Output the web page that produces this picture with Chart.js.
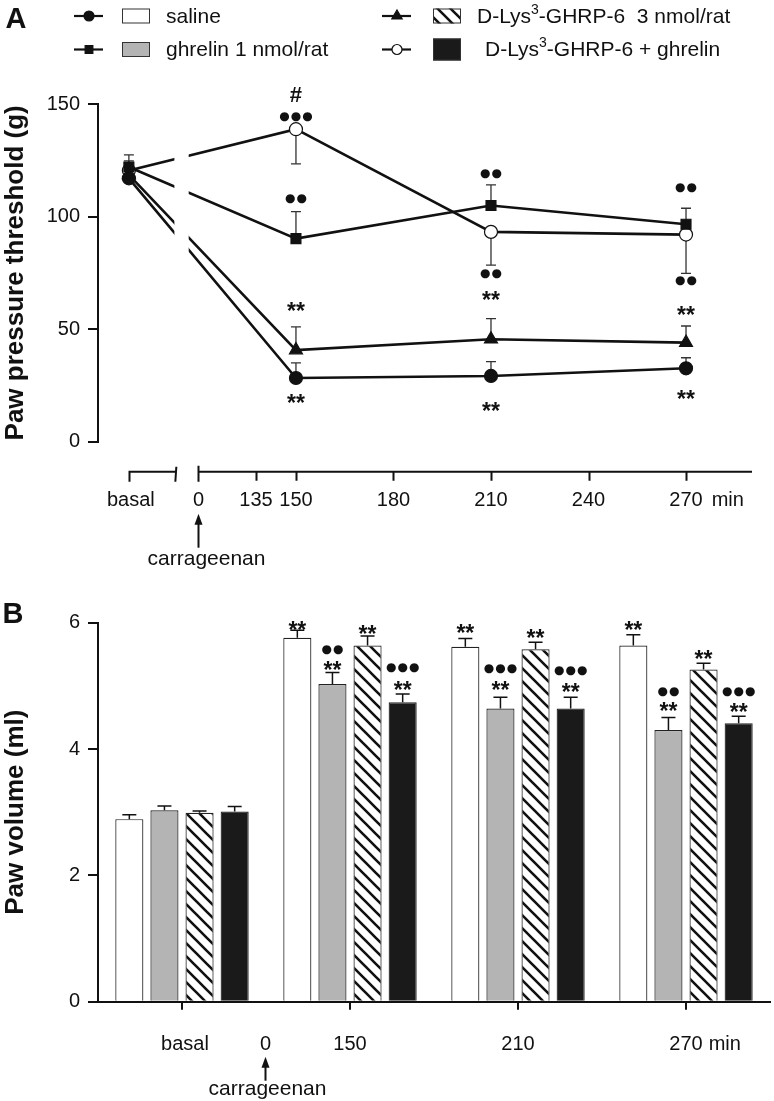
<!DOCTYPE html>
<html>
<head>
<meta charset="utf-8">
<script src="https://cdn.jsdelivr.net/npm/chart.js@4.4.1/dist/chart.umd.min.js"></script>
<style>
html, body { margin: 0; padding: 0; background: #fff; }
#wrap { position: relative; width: 774px; height: 1101px; }
canvas { position: absolute; left: 0; }
#chartA { top: 0; }
#chartB { top: 575px; }
</style>
</head>
<body>
<div id="wrap">
<canvas id="chartA" width="774" height="575"></canvas>
<canvas id="chartB" width="774" height="526"></canvas>
</div>
<script>
// ---- data ----
var groupNames = ['saline', 'ghrelin 1 nmol/rat', 'D-Lys3-GHRP-6  3 nmol/rat', 'D-Lys3-GHRP-6 + ghrelin'];

// panel A: paw pressure threshold (g)
var timesA = ['basal', 150, 210, 270];
var salineA = [117, 28.3, 29.2, 32.6];
var ghrelinA = [122, 90.2, 104.9, 96.6];
var dlysA = [118.5, 40.7, 45.5, 44];
var comboA = [120.5, 138.8, 93.2, 92];
// SEM, sign = side on which the bar is drawn
var salineErrA = [2, 6.7, 6.4, 4.7];
var ghrelinErrA = [2.7, 12, 9.2, 7.1];
var dlysErrA = [2, 10.3, 9.2, 7.4];
var comboErrA = [6.9, -15.4, -14.8, -17.2];
var ticksA = ['basal', '0', '135', '150', '180', '210', '240', '270'];
// significance marks: [time, level (g), mark]
var marksA = [
  [150, 154, '#'], [150, 144.4, '●●●'], [150, 107.7, '●●'], [150, 59.9, '**'], [150, 19.4, '**'],
  [210, 118.8, '●●'], [210, 74.7, '●●'], [210, 64.8, '**'], [210, 15.6, '**'],
  [270, 112.9, '●●'], [270, 71.3, '●●'], [270, 58.2, '**'], [270, 20.8, '**']
];

// panel B: paw volume (ml)
var timesB = ['basal', '150', '210', '270'];
var salineB = [2.89, 5.76, 5.62, 5.64];
var ghrelinB = [3.03, 5.03, 4.64, 4.30];
var dlysB = [2.99, 5.64, 5.58, 5.26];
var comboB = [3.01, 4.74, 4.64, 4.41];
var salineErrB = [0.07, 0.12, 0.13, 0.17];
var ghrelinErrB = [0.07, 0.18, 0.18, 0.2];
var dlysErrB = [0.03, 0.15, 0.11, 0.10];
var comboErrB = [0.08, 0.13, 0.18, 0.11];
// [time index, group index, level (ml), mark]
var marksB = [
  [1, 0, 5.96, '**'], [1, 1, 5.56, '●●'], [1, 1, 5.33, '**'], [1, 2, 5.90, '**'], [1, 3, 5.29, '●●●'], [1, 3, 5.01, '**'],
  [2, 0, 5.91, '**'], [2, 1, 5.26, '●●●'], [2, 1, 5.01, '**'], [2, 2, 5.83, '**'], [2, 3, 5.23, '●●●'], [2, 3, 4.98, '**'],
  [3, 0, 5.95, '**'], [3, 1, 4.91, '●●'], [3, 1, 4.67, '**'], [3, 2, 5.49, '**'], [3, 3, 4.91, '●●●'], [3, 3, 4.66, '**']
];

// ---- layout of the broken time axis in A (virtual minutes) ----
var posA = { 'basal': 98.6, '0': 120, '135': 137.7 };
function xA(t) { return posA[t] !== undefined ? posA[t] : Number(t); }

var FONT = "'Liberation Sans', Arial, sans-serif";
var INK = '#111';

function hatchPattern() {
  var s = 13;
  var c = document.createElement('canvas');
  c.width = s; c.height = s;
  var g = c.getContext('2d');
  g.fillStyle = '#fff';
  g.fillRect(0, 0, s, s);
  g.strokeStyle = INK;
  g.lineWidth = 2.6;
  g.beginPath();
  for (var k = -1; k <= 1; k++) {
    g.moveTo(k * s - 1, -1);
    g.lineTo(k * s + s + 1, s + 1);
  }
  g.stroke();
  return g.createPattern(c, 'repeat');
}
var hatch = hatchPattern();

var looks = [
  { point: 'circle', fill: INK, r: 6.5, box: '#fff' },
  { point: 'rect', fill: INK, r: 7, box: '#b4b4b4' },
  { point: 'triangle', fill: INK, r: 7.5, box: hatch },
  { point: 'circle', fill: '#fff', r: 6.5, box: '#1a1a1a' }
];

function textAt(ctx, str, x, cy, font) {
  ctx.font = font;
  ctx.textAlign = 'center';
  ctx.textBaseline = 'alphabetic';
  var m = ctx.measureText(str);
  ctx.fillText(str, x, cy + (m.actualBoundingBoxAscent - m.actualBoundingBoxDescent) / 2);
}

// like textAt but centres on the digit/cap height, so labels with descenders line up
function labelAt(ctx, str, x, cy, font) {
  ctx.font = font;
  ctx.textAlign = 'center';
  ctx.textBaseline = 'alphabetic';
  var h = ctx.measureText('0').actualBoundingBoxAscent;
  ctx.fillText(str, x, cy + h / 2);
}

function drawMark(ctx, str, x, cy) {
  ctx.save();
  ctx.fillStyle = INK;
  if (str.indexOf('●') >= 0) {
    ctx.letterSpacing = '1px';
    textAt(ctx, str, x + 0.5, cy, "12px 'DejaVu Sans', sans-serif");
  } else if (str === '#') {
    textAt(ctx, str, x, cy, 'bold 22px ' + FONT);
  } else {
    textAt(ctx, str, x, cy, 'bold 23px ' + FONT);
  }
  ctx.restore();
}

function errBar(ctx, x, y0, y1, half) {
  ctx.beginPath();
  ctx.moveTo(x, y0); ctx.lineTo(x, y1);
  ctx.moveTo(x - half, y1); ctx.lineTo(x + half, y1);
  ctx.stroke();
}

function marker(ctx, look, x, y, r) {
  ctx.save();
  ctx.fillStyle = look.fill;
  ctx.strokeStyle = INK;
  ctx.lineWidth = 1.2;
  ctx.beginPath();
  if (look.point === 'circle') ctx.arc(x, y, r, 0, Math.PI * 2);
  else if (look.point === 'rect') ctx.rect(x - r * 0.7, y - r * 0.7, r * 1.4, r * 1.4);
  else { ctx.moveTo(x, y - r); ctx.lineTo(x + r * 0.87, y + r * 0.5); ctx.lineTo(x - r * 0.87, y + r * 0.5); ctx.closePath(); }
  ctx.fill();
  ctx.stroke();
  ctx.restore();
}

function arrowUp(ctx, x, tip, tail) {
  ctx.lineWidth = 2;
  ctx.beginPath();
  ctx.moveTo(x, tail); ctx.lineTo(x, tip + 6);
  ctx.stroke();
  ctx.beginPath();
  ctx.moveTo(x, tip); ctx.lineTo(x + 4, tip + 11); ctx.lineTo(x - 4, tip + 11); ctx.closePath();
  ctx.fill();
}

// ---- panel A ----
var valuesA = [salineA, ghrelinA, dlysA, comboA];
var errsA = [salineErrA, ghrelinErrA, dlysErrA, comboErrA];

var extrasA = {
  id: 'extrasA',
  beforeDatasetsDraw: function (chart) {
    var ctx = chart.ctx, xs = chart.scales.x, ys = chart.scales.y;
    ctx.save();
    ctx.strokeStyle = '#333';
    ctx.lineWidth = 1.3;
    valuesA.forEach(function (vals, i) {
      vals.forEach(function (v, j) {
        var x = xs.getPixelForValue(xA(timesA[j]));
        errBar(ctx, x, ys.getPixelForValue(v), ys.getPixelForValue(v + errsA[i][j]), 5);
      });
    });
    ctx.restore();
  },
  afterDatasetsDraw: function (chart) {
    var ctx = chart.ctx, xs = chart.scales.x, a = chart.chartArea;
    // gap where the time axis is broken
    ctx.save();
    ctx.fillStyle = '#fff';
    var g0 = xs.getPixelForValue(112.6), g1 = xs.getPixelForValue(117);
    ctx.fillRect(g0, a.top - 10, g1 - g0, a.bottom - a.top + 20);
    ctx.restore();
  },
  afterDraw: function (chart) {
    var ctx = chart.ctx, xs = chart.scales.x, ys = chart.scales.y;
    ctx.save();
    ctx.strokeStyle = INK;
    ctx.fillStyle = INK;
    ctx.lineWidth = 2;
    var ay = ys.getPixelForValue(0) + 30;
    var px = function (t) { return Math.round(xs.getPixelForValue(xA(t))) + 0.5; };
    // basal bracket
    var bx = px('basal'), brk = xs.getPixelForValue(113.2);
    ctx.beginPath();
    ctx.moveTo(bx, ay + 10); ctx.lineTo(bx, ay); ctx.lineTo(brk, ay);
    ctx.moveTo(brk, ay - 5); ctx.lineTo(brk - 1, ay + 10);
    ctx.stroke();
    // main time axis
    var x0 = px('0');
    ctx.beginPath();
    ctx.moveTo(x0, ay - 6); ctx.lineTo(x0, ay + 10);
    ctx.moveTo(x0, ay); ctx.lineTo(chart.chartArea.right, ay);
    ticksA.slice(2).forEach(function (t) {
      var x = px(t);
      ctx.moveTo(x, ay); ctx.lineTo(x, ay + 9);
    });
    ctx.stroke();
    ticksA.forEach(function (t) {
      labelAt(ctx, t, xs.getPixelForValue(xA(t)) + (t === 'basal' ? 2 : 0), ay + 27, '20px ' + FONT);
    });
    ctx.font = '20px ' + FONT;
    var m270 = ctx.measureText('270').width;
    ctx.textAlign = 'left';
    labelAt(ctx, 'min', xs.getPixelForValue(270) + m270 / 2 + 9 + ctx.measureText('min').width / 2, ay + 27, '20px ' + FONT);
    // carrageenan arrow
    arrowUp(ctx, x0, ay + 42, ay + 76);
    textAt(ctx, 'carrageenan', x0 + 8, ay + 89, '21px ' + FONT);

    // significance marks
    marksA.forEach(function (m) {
      drawMark(ctx, m[2], xs.getPixelForValue(xA(m[0])), ys.getPixelForValue(m[1]));
    });

    // panel letter
    textAt(ctx, 'A', 16, 18, 'bold 29px ' + FONT);

    // legend
    var rows = [16, 49.5];
    var cols = [{ line: 74, box: 122, text: 166 }, { line: 382, box: 433, text: 477 }];
    var labels = [['saline'], ['ghrelin 1 nmol/rat'], ['D-Lys', '3', '-GHRP-6  3 nmol/rat'], ['D-Lys', '3', '-GHRP-6 + ghrelin']];
    for (var i = 0; i < 4; i++) {
      var c = cols[i < 2 ? 0 : 1], y = rows[i % 2], lk = looks[i];
      ctx.strokeStyle = INK;
      ctx.lineWidth = 2.2;
      ctx.beginPath();
      ctx.moveTo(c.line, y); ctx.lineTo(c.line + 29, y);
      ctx.stroke();
      marker(ctx, lk, c.line + 15, y, lk.r - 1.5);
      ctx.fillStyle = lk.box;
      var bh = i === 3 ? 22 : 15;
      ctx.fillRect(c.box, y - bh / 2, 28, bh);
      ctx.lineWidth = 1;
      ctx.strokeStyle = '#333';
      ctx.strokeRect(c.box + 0.5, y - bh / 2 + 0.5, 27, bh - 1);
      ctx.fillStyle = INK;
      ctx.textAlign = 'left';
      ctx.textBaseline = 'middle';
      var tx = c.text + (i === 3 ? 8 : 0);
      var parts = labels[i];
      ctx.font = '21px ' + FONT;
      ctx.fillText(parts[0], tx, y + 1);
      if (parts.length > 1) {
        tx += ctx.measureText(parts[0]).width;
        ctx.font = '14px ' + FONT;
        ctx.fillText(parts[1], tx, y - 6);
        tx += ctx.measureText(parts[1]).width;
        ctx.font = '21px ' + FONT;
        ctx.fillText(parts[2], tx, y + 1);
      }
    }
    ctx.restore();
  }
};

new Chart(document.getElementById('chartA'), {
  type: 'line',
  data: {
    datasets: valuesA.map(function (vals, i) {
      var lk = looks[i];
      return {
        label: groupNames[i],
        data: vals.map(function (v, j) { return { x: xA(timesA[j]), y: v }; }),
        borderColor: INK,
        borderWidth: 2.6,
        pointStyle: lk.point,
        pointRadius: lk.r,
        pointBackgroundColor: lk.fill,
        pointBorderColor: INK,
        pointBorderWidth: 1.2,
        tension: 0,
        clip: false
      };
    })
  },
  options: {
    responsive: false,
    animation: false,
    layout: { padding: { top: 104, right: 22, bottom: 133.3, left: 0 } },
    plugins: { legend: { display: false }, tooltip: { enabled: false } },
    scales: {
      x: { type: 'linear', display: false, min: 89.1, max: 290.3 },
      y: {
        min: 0, max: 150,
        ticks: { stepSize: 50, color: INK, padding: 8, font: { family: FONT, size: 20 } },
        grid: { drawOnChartArea: false, drawTicks: true, tickLength: 10, color: INK, lineWidth: 2 },
        border: { display: true, color: INK, width: 2 },
        title: { display: true, text: 'Paw pressure threshold (g)', color: INK, padding: { top: 0, bottom: 0 }, font: { family: FONT, size: 26, weight: 'bold' } },
        afterFit: function (s) { s.width = 98; }
      }
    }
  },
  plugins: [extrasA]
});

// ---- panel B ----
var valuesB = [salineB, ghrelinB, dlysB, comboB];
var errsB = [salineErrB, ghrelinErrB, dlysErrB, comboErrB];

var extrasB = {
  id: 'extrasB',
  afterDatasetsDraw: function (chart) {
    var ctx = chart.ctx, ys = chart.scales.y;
    ctx.save();
    ctx.strokeStyle = INK;
    ctx.lineWidth = 1.5;
    valuesB.forEach(function (vals, i) {
      var meta = chart.getDatasetMeta(i);
      vals.forEach(function (v, j) {
        errBar(ctx, meta.data[j].x, ys.getPixelForValue(v), ys.getPixelForValue(v + errsB[i][j]), 7);
      });
    });
    ctx.restore();
  },
  afterDraw: function (chart) {
    var ctx = chart.ctx, xs = chart.scales.x, ys = chart.scales.y;
    ctx.save();
    ctx.fillStyle = INK;
    ctx.strokeStyle = INK;
    marksB.forEach(function (m) {
      var bar = chart.getDatasetMeta(m[1]).data[m[0]];
      drawMark(ctx, m[3], bar.x, ys.getPixelForValue(m[2]));
    });
    var ay = ys.getPixelForValue(0);
    var ly = ay + 41;
    // time labels
    timesB.forEach(function (t, i) {
      labelAt(ctx, t, xs.getPixelForValue(i) + (i === 0 ? 3 : 0), ly, '20px ' + FONT);
    });
    ctx.font = '20px ' + FONT;
    var w = ctx.measureText('270').width;
    labelAt(ctx, 'min', xs.getPixelForValue(3) + w / 2 + 6 + ctx.measureText('min').width / 2, ly, '20px ' + FONT);
    // zero time and carrageenan arrow between basal and 150
    var x0 = Math.round(xs.getPixelForValue(0.5)) + 0.5 - 1;
    labelAt(ctx, '0', x0, ly, '20px ' + FONT);
    arrowUp(ctx, x0, ly + 14, ly + 38);
    textAt(ctx, 'carrageenan', x0 + 2, ay + 89, '21px ' + FONT);
    textAt(ctx, 'B', 13, 38, 'bold 29px ' + FONT);
    ctx.restore();
  }
};

new Chart(document.getElementById('chartB'), {
  type: 'bar',
  data: {
    labels: timesB,
    datasets: valuesB.map(function (vals, i) {
      return {
        label: groupNames[i],
        data: vals,
        backgroundColor: looks[i].box,
        borderColor: '#222',
        borderWidth: 1.2,
        categoryPercentage: 0.836,
        barPercentage: 0.8
      };
    })
  },
  options: {
    responsive: false,
    animation: false,
    layout: { padding: { top: 47.7, right: 4, bottom: 59.3, left: 0 } },
    plugins: { legend: { display: false }, tooltip: { enabled: false } },
    scales: {
      x: {
        ticks: { display: false },
        grid: { display: true, offset: false, drawOnChartArea: false, drawTicks: true, tickLength: 8, color: INK, lineWidth: 2 },
        border: { display: true, color: INK, width: 2 },
        afterFit: function (s) { s.height = 40; }
      },
      y: {
        min: 0, max: 6,
        ticks: { stepSize: 2, color: INK, padding: 8, font: { family: FONT, size: 20 } },
        grid: { drawOnChartArea: false, drawTicks: true, tickLength: 10, color: INK, lineWidth: 2 },
        border: { display: true, color: INK, width: 2 },
        title: { display: true, text: 'Paw volume (ml)', color: INK, padding: { top: 0, bottom: 0 }, font: { family: FONT, size: 26, weight: 'bold' } },
        afterFit: function (s) { s.width = 98; }
      }
    }
  },
  plugins: [extrasB]
});
</script>
</body>
</html>
